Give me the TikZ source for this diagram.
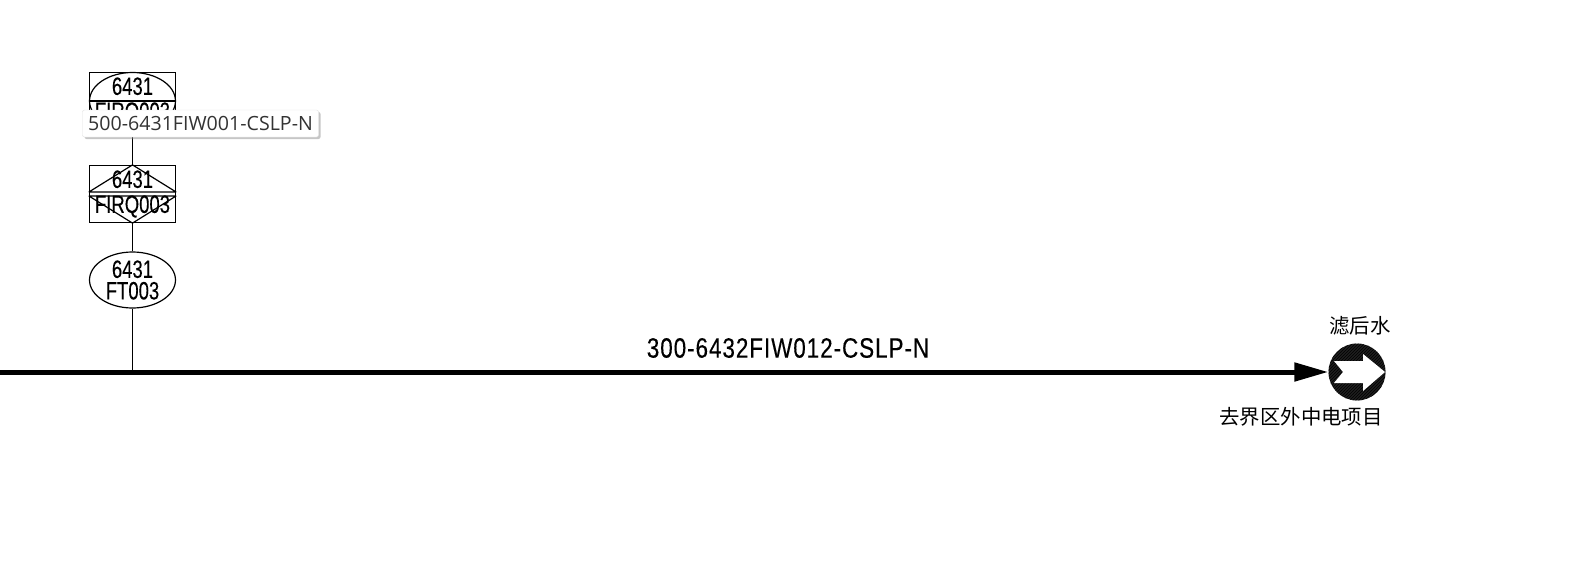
\documentclass[tikz,border=0pt]{standalone}
\usepackage{fontspec}
\newfontfamily\cadfont[FakeStretch=0.74,FakeBold=0.25]{Liberation Sans}
\newfontfamily\linefont[FakeStretch=0.8,FakeBold=0.25,LetterSpace=3.5]{Liberation Sans}
\newfontfamily\cjkfont{Noto Sans CJK SC}
\newfontfamily\tipfont{Open Sans}
\usetikzlibrary{positioning,arrows.meta,calc,shadows,patterns,shapes.geometric}

\begin{document}
\begin{tikzpicture}[
  x=1pt, y=-1pt,
  tag/.style={draw, line width=1.2pt, inner sep=0pt, align=center, minimum width=86pt,
    font={\cadfont\fontsize{25}{21.5}\selectfont}},
  panel/.style={tag, minimum height=57pt,
    font={\cadfont\fontsize{25}{25}\selectfont}},
  transmitter/.style={tag, ellipse, minimum height=56pt},
  branch/.style={draw, line width=1.2pt},
  pipe/.style={line width=5pt, -{Triangle[length=34pt,width=18pt]}},
  offsheet/.style={circle, minimum size=57pt, inner sep=0pt,
    preaction={fill=black!88}, pattern=north east lines, pattern color=black},
  pipelabel/.style={inner sep=0pt, font={\linefont\fontsize{28}{28}\selectfont}},
  cnlabel/.style={inner sep=0pt, font={\cjkfont\fontsize{20.4}{20.4}\selectfont}},
  tooltip/.style={fill=white, draw=black!12, rounded corners=2pt, inner sep=0pt,
    minimum width=236pt, minimum height=27pt, text=black!80,
    font={\tipfont\fontsize{19.6}{20}\selectfont},
    drop shadow={opacity=0.45, shadow xshift=2pt, shadow yshift=-2pt}}
]
  \useasboundingbox (0,0) rectangle (1579,586);

  % instruments
  \node[panel] (firqtop) at (132.5,101) {6431\\FIRQ003};
  \node[panel] (firq) at (132.5,194) {6431\\FIRQ003};
  \node[transmitter] (ft) at (132.5,280) {6431\\FT003};
  \coordinate (tee) at (132.5,372);

  \draw[line width=1.2pt] (firqtop.center) ellipse [x radius=43, y radius=28.5];
  \draw[line width=1.2pt] (firqtop.west) -- (firqtop.east);

  \draw[line width=1.2pt, line join=bevel] ([yshift=2pt]firq.west) -- (firq.north) -- ([yshift=2pt]firq.east) -- cycle;
  \draw[line width=1.2pt, line join=bevel] ([yshift=-2pt]firq.west) -- (firq.south) -- ([yshift=-2pt]firq.east) -- cycle;

  \draw[branch] (tee) -- (ft.south);
  \draw[branch] (ft.north) -- (firq.south);
  \draw[branch] (firq.north) -- (firqtop.south);

  % main line
  \coordinate (linestart) at (0,372);
  \node[offsheet] (exit) at (1357,372) {};
  \fill[white, shift={(exit.center)}] (-23,-11) -- (6,-11) -- (6,-18) -- (28,0)
    -- (6,19) -- (6,11) -- (-23,11) -- (-14,0) -- cycle;
  \draw[pipe] (linestart) -- (exit);

  \node[pipelabel] (linename) at (788,348) {300-6432FIW012-CSLP-N};
  \node[cnlabel] (medium) at (1360,326) {滤后水};
  \node[cnlabel] (dest) at (1301,417) {去界区外中电项目};

  \node[tooltip] (hint) at (200.5,123.5) {500-6431FIW001-CSLP-N};
\end{tikzpicture}
\end{document}
